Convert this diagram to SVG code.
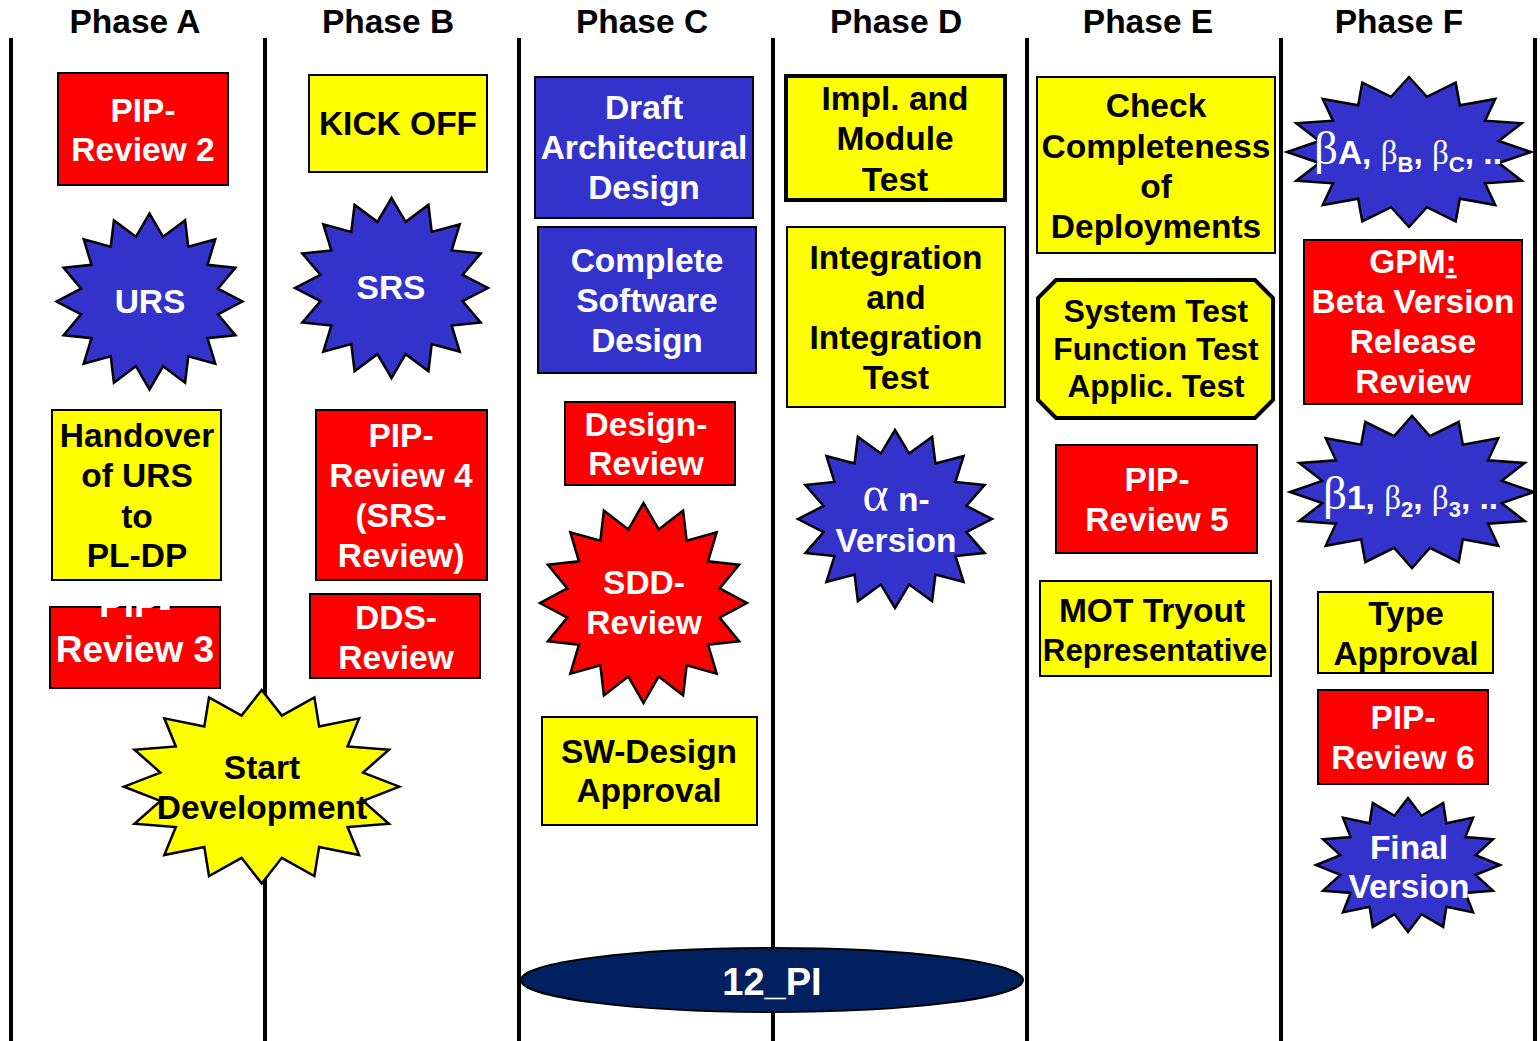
<svg xmlns="http://www.w3.org/2000/svg" xmlns:xlink="http://www.w3.org/1999/xlink" width="1540" height="1041" viewBox="0 0 1540 1041">
<style>
text{font-family:"Liberation Sans",Arial,sans-serif;font-weight:bold;font-size:33.5px;text-anchor:middle}
.w{fill:#fff}.k{fill:#000}
.r{fill:#FF0000;stroke:#000;stroke-width:2}
.y{fill:#FFFF00;stroke:#000;stroke-width:2}
.b{fill:#3333CC;stroke:#000;stroke-width:2}
.sr{fill:#FF0000}.sy{fill:#FFFF00}.sb{fill:#3333CC}
.g{font-family:"Liberation Serif","Times New Roman",serif;font-weight:normal}
.ph{stroke:#000;stroke-width:4}
</style>
<defs>
<path id="star" stroke="#000" stroke-width="2.5" vector-effect="non-scaling-stroke" stroke-linejoin="miter" d="M1,0 L.7356,.1463 L.9239,.3827 L.6236,.4167 L.7071,.7071 L.4167,.6236 L.3827,.9239 L.1463,.7356 L0,1 L-.1463,.7356 L-.3827,.9239 L-.4167,.6236 L-.7071,.7071 L-.6236,.4167 L-.9239,.3827 L-.7356,.1463 L-1,0 L-.7356,-.1463 L-.9239,-.3827 L-.6236,-.4167 L-.7071,-.7071 L-.4167,-.6236 L-.3827,-.9239 L-.1463,-.7356 L0,-1 L.1463,-.7356 L.3827,-.9239 L.4167,-.6236 L.7071,-.7071 L.6236,-.4167 L.9239,-.3827 L.7356,-.1463 Z"/>
</defs>
<rect width="1540" height="1041" fill="#fff"/>
<g id="phase-lines">
<line class="ph" x1="11" y1="38" x2="11" y2="1041"/>
<line class="ph" x1="265" y1="38" x2="265" y2="1041"/>
<line class="ph" x1="519" y1="38" x2="519" y2="1041"/>
<line class="ph" x1="773" y1="38" x2="773" y2="1041"/>
<line class="ph" x1="1027" y1="38" x2="1027" y2="1041"/>
<line class="ph" x1="1281" y1="38" x2="1281" y2="1041"/>
<line class="ph" x1="1535" y1="38" x2="1535" y2="1041"/>
</g>
<g id="headers">
<text class="k" x="135" y="33">Phase A</text>
<text class="k" x="388" y="33">Phase B</text>
<text class="k" x="642" y="33">Phase C</text>
<text class="k" x="896" y="33">Phase D</text>
<text class="k" x="1148" y="33">Phase E</text>
<text class="k" x="1399" y="33">Phase F</text>
</g>
<g id="connectors"></g>

<g id="pip-review-2"><rect class="r" x="58" y="73" width="170" height="112"/>
<text class="w" x="143" y="122">PIP-</text><text class="w" x="143" y="161">Review 2</text></g>
<g id="urs"><use href="#star" class="sb" transform="translate(149.5,301.5) scale(93,88)"/>
<text class="w" x="150" y="313">URS</text></g>
<g id="handover"><rect class="y" x="52" y="410" width="169" height="170"/>
<text class="k" x="137" y="447">Handover</text><text class="k" x="137" y="487">of URS</text><text class="k" x="137" y="528">to</text><text class="k" x="137" y="567">PL-DP</text></g>
<g id="pip-review-3"><rect class="r" x="50" y="607" width="170" height="81"/>
<text class="w" x="135" y="617" style="font-size:37px">PIP-</text><text class="w" x="135" y="662" style="font-size:37px">Review 3</text></g>

<g id="kick-off"><rect class="y" x="309" y="75" width="178" height="97"/>
<text class="k" x="398" y="135">KICK OFF</text></g>
<g id="srs"><use href="#star" class="sb" transform="translate(391.5,288) scale(96.5,90)"/>
<text class="w" x="391" y="299">SRS</text></g>
<g id="pip-review-4"><rect class="r" x="316" y="410" width="171" height="170"/>
<text class="w" x="401" y="447">PIP-</text><text class="w" x="401" y="487">Review 4</text><text class="w" x="401" y="527">(SRS-</text><text class="w" x="401" y="567">Review)</text></g>
<g id="dds-review"><rect class="r" x="310" y="594" width="170" height="84"/>
<text class="w" x="396" y="629">DDS-</text><text class="w" x="396" y="669">Review</text></g>

<g id="start-development"><use href="#star" class="sy" transform="translate(261.7,786.7) scale(137.7,96.7)"/>
<text class="k" x="262" y="779">Start</text><text class="k" x="262" y="819">Development</text></g>

<g id="draft-arch"><rect class="b" x="535" y="77" width="218" height="141"/>
<text class="w" x="644" y="119">Draft</text><text class="w" x="644" y="159">Architectural</text><text class="w" x="644" y="199">Design</text></g>
<g id="complete-sw"><rect class="b" x="538" y="227" width="218" height="146"/>
<text class="w" x="647" y="272">Complete</text><text class="w" x="647" y="312">Software</text><text class="w" x="647" y="352">Design</text></g>
<g id="design-review"><rect class="r" x="565" y="402" width="170" height="83"/>
<text class="w" x="646" y="436">Design-</text><text class="w" x="646" y="475">Review</text></g>
<g id="sdd-review"><use href="#star" class="sr" transform="translate(643.5,603) scale(103.5,100)"/>
<text class="w" x="644" y="594">SDD-</text><text class="w" x="644" y="634">Review</text></g>
<g id="sw-design-approval"><rect class="y" x="542" y="717" width="215" height="108"/>
<text class="k" x="649" y="763">SW-Design</text><text class="k" x="649" y="802">Approval</text></g>

<g id="pi12"><ellipse cx="772" cy="980" rx="251" ry="32" fill="#002060" stroke="#000" stroke-width="2"/>
<text class="w" x="772" y="995" style="font-size:38px">12_PI</text></g>

<g id="impl-module"><rect x="786" y="76" width="219" height="124" fill="#FFFF00" stroke="#000" stroke-width="4"/>
<text class="k" x="895" y="110">Impl. and</text><text class="k" x="895" y="150">Module</text><text class="k" x="895" y="191">Test</text></g>
<g id="integration"><rect class="y" x="787" y="227" width="218" height="180"/>
<text class="k" x="896" y="269">Integration</text><text class="k" x="896" y="309">and</text><text class="k" x="896" y="349">Integration</text><text class="k" x="896" y="389">Test</text></g>
<g id="alpha"><use href="#star" class="sb" transform="translate(895,519) scale(97,89)"/>
<text class="w" x="896" y="511"><tspan class="g" style="font-size:50px">α</tspan> n-</text><text class="w" x="896" y="552">Version</text></g>

<g id="check-completeness"><rect class="y" x="1037" y="77" width="238" height="176"/>
<text class="k" x="1156" y="117">Check</text><text class="k" x="1156" y="158">Completeness</text><text class="k" x="1156" y="198">of</text><text class="k" x="1156" y="238">Deployments</text></g>
<g id="system-test"><path d="M1056,280 L1255,280 L1273,298 L1273,400 L1255,418 L1056,418 L1038,400 L1038,298 Z" fill="#FFFF00" stroke="#000" stroke-width="4"/>
<text class="k" x="1156" y="322" style="font-size:31.7px">System Test</text><text class="k" x="1156" y="360" style="font-size:31.7px">Function Test</text><text class="k" x="1156" y="397" style="font-size:31.7px">Applic. Test</text></g>
<g id="pip-review-5"><rect class="r" x="1056" y="445" width="201" height="108"/>
<text class="w" x="1157" y="491">PIP-</text><text class="w" x="1157" y="531">Review 5</text></g>
<g id="mot-tryout"><rect class="y" x="1040" y="581" width="231" height="95"/>
<text class="k" x="1152" y="622">MOT Tryout</text><text class="k" x="1155" y="661" style="font-size:31.3px">Representative</text></g>

<g id="beta-a"><use href="#star" class="sb" transform="translate(1409,152) scale(122,75)"/>
<text class="w" x="1314" y="164" style="text-anchor:start"><tspan class="g" style="font-size:47px">β</tspan>A, <tspan class="g" style="font-size:33px">β</tspan><tspan style="font-size:22px" dy="8">B</tspan><tspan dy="-8">, </tspan><tspan class="g" style="font-size:33px">β</tspan><tspan style="font-size:22px" dy="8">C</tspan><tspan dy="-8">, ..</tspan></text></g>
<g id="gpm"><rect class="r" x="1304" y="240" width="218" height="164"/>
<text class="w" x="1413" y="273">GPM<tspan text-decoration="underline">:</tspan></text><text class="w" x="1413" y="313">Beta Version</text><text class="w" x="1413" y="353">Release</text><text class="w" x="1413" y="393">Review</text></g>
<g id="beta-1"><use href="#star" class="sb" transform="translate(1412,492) scale(122,76)"/>
<text class="w" x="1323" y="509" style="text-anchor:start"><tspan class="g" style="font-size:47px">β</tspan>1, <tspan class="g" style="font-size:33px">β</tspan><tspan style="font-size:22px" dy="8">2</tspan><tspan dy="-8">, </tspan><tspan class="g" style="font-size:33px">β</tspan><tspan style="font-size:22px" dy="8">3</tspan><tspan dy="-8">, ..</tspan></text></g>
<g id="type-approval"><rect class="y" x="1318" y="592" width="175" height="81"/>
<text class="k" x="1406" y="625">Type</text><text class="k" x="1406" y="665">Approval</text></g>
<g id="pip-review-6"><rect class="r" x="1318" y="690" width="170" height="94"/>
<text class="w" x="1403" y="729">PIP-</text><text class="w" x="1403" y="769">Review 6</text></g>
<g id="final-version"><use href="#star" class="sb" transform="translate(1408,865) scale(92,67)"/>
<text class="w" x="1409" y="859">Final</text><text class="w" x="1409" y="898">Version</text></g>
</svg>
